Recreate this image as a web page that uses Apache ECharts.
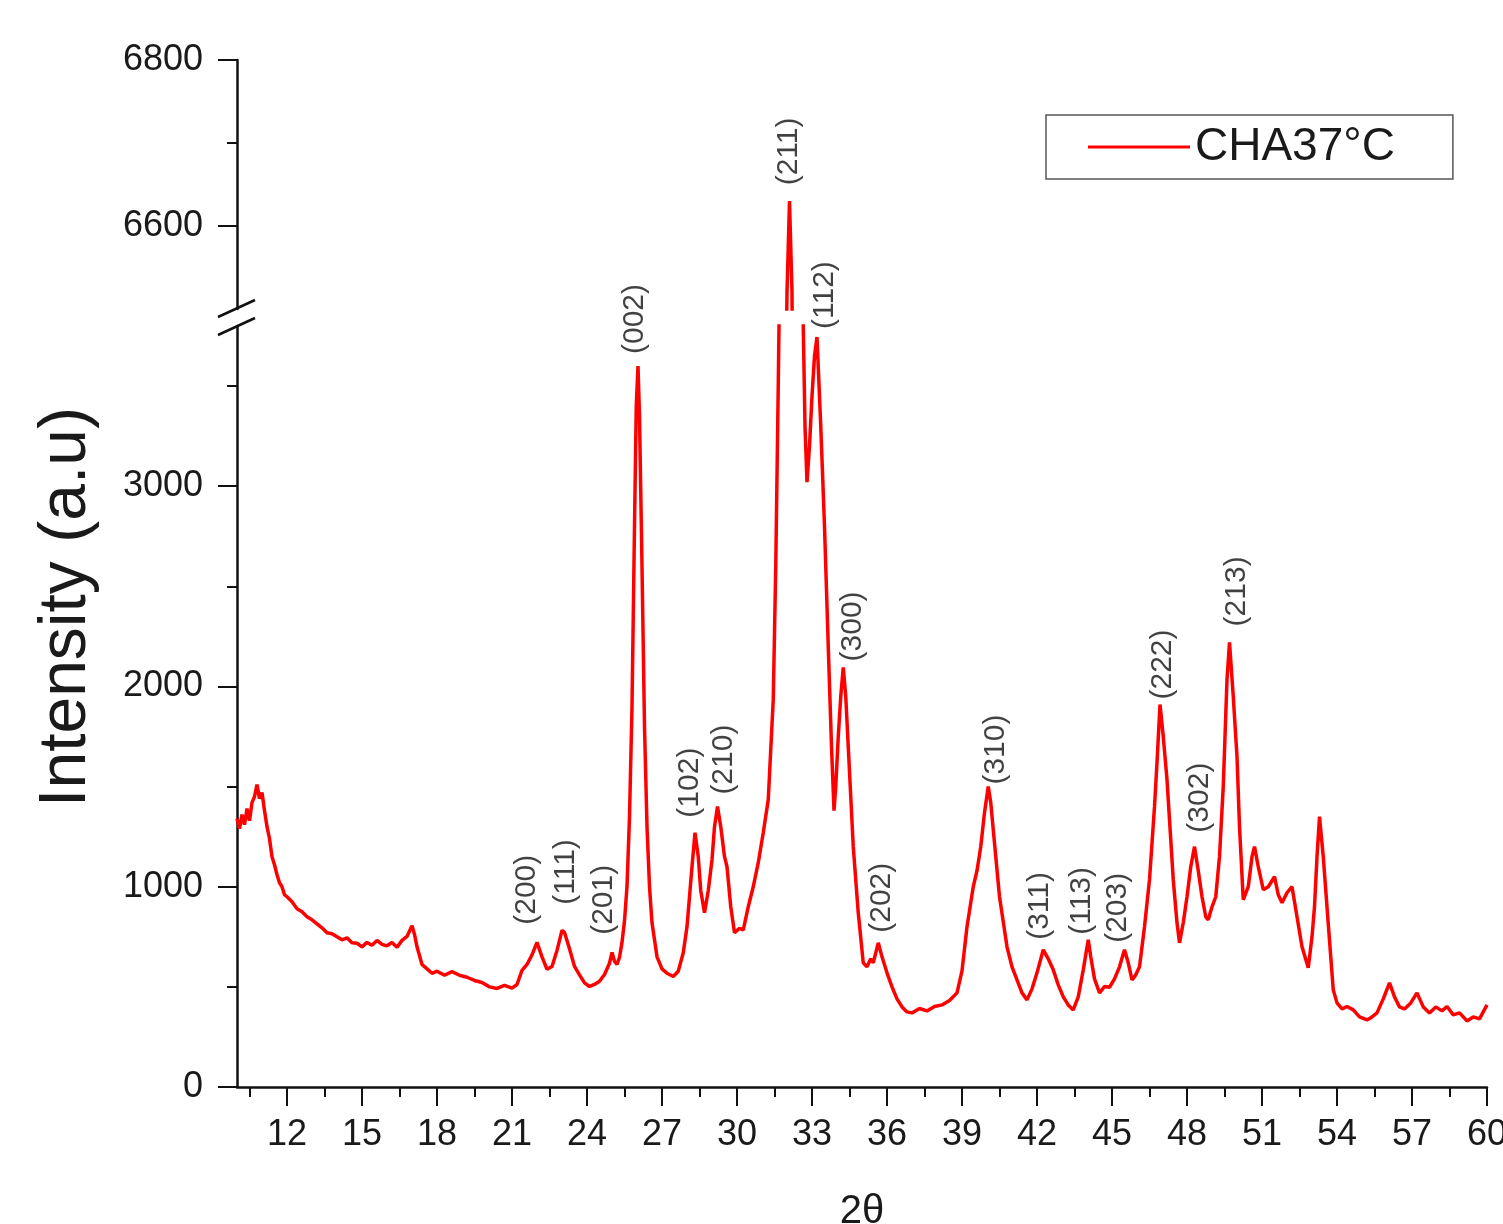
<!DOCTYPE html>
<html>
<head>
<meta charset="utf-8">
<script src="https://cdn.jsdelivr.net/npm/echarts@6.0.0/dist/echarts.min.js"></script>
<style>
html,body{margin:0;padding:0;background:#fff;}
#main{width:1503px;height:1224px;}
</style>
</head>
<body>
<div id="main"></div>
<script>
// 2theta / intensity
var twoTheta = [10.0,10.1,10.2,10.3,10.4,10.5,10.6,10.7,10.8,10.9,11.0,11.1,11.2,11.3,11.4,11.5,11.6,11.7,11.8,11.9,
    12.0,12.2,12.4,12.6,12.8,13.0,13.2,13.4,13.6,13.8,14.0,14.2,14.4,14.6,14.8,15.0,15.2,15.4,15.6,15.8,
    16.0,16.2,16.4,16.6,16.8,17.0,17.1,17.2,17.4,17.6,17.8,18.0,18.3,18.6,18.9,19.2,19.5,19.8,20.1,20.4,
    20.7,21.0,21.2,21.4,21.6,21.8,22.0,22.2,22.4,22.6,22.8,23.0,23.1,23.3,23.5,23.7,23.9,24.1,24.3,24.5,
    24.7,24.9,25.0,25.1,25.2,25.3,25.4,25.5,25.6,25.7,25.8,25.9,25.97,26.04,26.1,26.2,26.3,26.4,26.5,26.6,
    26.8,27.0,27.2,27.45,27.65,27.85,28.0,28.1,28.2,28.32,28.45,28.55,28.7,28.85,29.0,29.1,29.22,29.35,29.5,29.6,
    29.75,29.9,30.1,30.25,30.45,30.65,30.85,31.05,31.25,31.45,31.55,31.65,31.72,31.8,31.95,32.0,32.1,32.2,32.25,32.55,
    32.65,32.72,32.8,32.9,33.0,33.1,33.2,33.35,33.5,33.65,33.78,33.88,33.95,34.05,34.15,34.25,34.35,34.45,34.65,34.85,
    35.05,35.2,35.35,35.45,35.65,35.8,36.0,36.2,36.4,36.6,36.8,37.0,37.3,37.6,37.9,38.2,38.5,38.8,39.0,39.2,
    39.45,39.6,39.75,39.9,40.05,40.15,40.25,40.5,40.8,41.0,41.2,41.4,41.6,41.8,42.0,42.25,42.45,42.65,42.85,43.05,
    43.25,43.45,43.65,43.85,44.05,44.15,44.3,44.5,44.7,44.9,45.1,45.3,45.5,45.65,45.8,45.95,46.1,46.3,46.5,46.7,
    46.8,46.92,47.05,47.2,47.45,47.6,47.7,47.85,48.0,48.15,48.3,48.45,48.6,48.75,48.85,49.0,49.15,49.3,49.45,49.6,
    49.7,49.85,50.0,50.1,50.25,50.45,50.6,50.7,50.85,51.05,51.25,51.5,51.65,51.8,52.0,52.2,52.4,52.6,52.85,53.0,
    53.1,53.2,53.3,53.45,53.6,53.75,53.85,54.0,54.2,54.4,54.65,54.9,55.2,55.4,55.6,55.85,56.1,56.3,56.5,56.7,
    56.95,57.2,57.45,57.7,57.95,58.2,58.4,58.65,58.9,59.2,59.45,59.7,60.0];
var intensity = [1340,1290,1360,1310,1390,1330,1420,1450,1510,1440,1470,1380,1300,1240,1150,1110,1060,1020,1000,960,
    950,925,890,875,850,835,815,795,770,765,750,735,745,720,718,700,722,708,732,712,
    705,722,698,732,752,805,762,700,612,590,568,578,558,576,558,548,532,522,500,492,
    508,494,512,582,612,660,722,650,588,602,682,782,772,690,602,560,520,502,512,528,
    562,618,672,628,612,648,722,830,1000,1350,1900,2800,3400,3600,3350,2600,1800,1300,1000,820,
    650,590,568,552,578,670,800,950,1100,1270,1150,980,870,980,1135,1300,1400,1300,1150,1100,
    900,770,792,785,900,1000,1120,1270,1435,1935,2600,3500,4200,5200,6400,6520,6630,6520,6300,4300,
    3800,3300,3020,3200,3450,3650,3745,3300,2800,2200,1700,1380,1500,1750,1950,2095,1950,1700,1200,870,
    620,600,640,620,720,650,570,500,440,400,375,370,392,380,402,410,432,470,580,800,
    1000,1080,1200,1370,1500,1420,1285,950,700,600,535,470,435,490,570,685,640,585,510,450,
    410,385,450,585,735,650,540,470,502,498,540,600,685,620,535,560,600,800,1035,1400,
    1620,1910,1750,1535,1035,820,720,820,950,1100,1200,1080,950,850,835,900,950,1150,1500,2035,
    2220,1950,1650,1300,935,1000,1150,1200,1100,985,1000,1050,960,920,970,1000,850,700,595,750,
    900,1150,1350,1150,900,650,485,420,390,402,385,350,335,350,370,440,520,450,400,390,
    420,470,400,370,400,380,402,360,370,330,350,340,410];

// reflection labels (x = centre of text, y = bottom of text)
var peakNames = ['(200)','(111)','(201)','(002)','(102)','(210)','(211)','(112)','(300)','(202)','(310)','(311)','(113)','(203)','(222)','(302)','(213)'];
var peakX = [21.6,23.16,24.68,25.92,28.12,29.48,32.08,33.52,34.64,35.8,40.36,42.12,43.8,45.24,47.04,48.52,50.0];
var peakY = [810,910,760,3660,1345,1460,6649,3785,2125,770,1510,735,760,720,1935,1270,2300];

var xMajor = [12,15,18,21,24,27,30,33,36,39,42,45,48,51,54,57,60];
var xMinor = [10.5,13.5,16.5,19.5,22.5,25.5,28.5,31.5,34.5,37.5,40.5,43.5,46.5,49.5,52.5,55.5,58.5];
var yLowMajor = [0,1000,2000,3000];
var yLowMinor = [500,1500,2500,3500];
var yHighMajor = [6600,6800];
var yHighMinor = [6700];

var FONT = 'Arial, "Liberation Sans", sans-serif';
var lineData = [];
for (var i = 0; i < twoTheta.length; i++) lineData.push([twoTheta[i], intensity[i]]);
var lowLabels = [], highLabels = [];
for (var j = 0; j < peakNames.length; j++) {
    if (peakY[j] > 6000) highLabels.push([peakX[j], peakY[j], peakNames[j]]);
    else lowLabels.push([peakX[j], peakY[j], peakNames[j]]);
}

function tickAxis(grid, vals, len, pos, extra) {
    var a = {
        gridIndex: grid, type: 'value', position: pos,
        axisLine: {show: false}, splitLine: {show: false},
        axisLabel: {show: false},
        axisTick: {show: true, length: len, customValues: vals, lineStyle: {color: '#111', width: 2}}
    };
    for (var k in extra) a[k] = extra[k];
    return a;
}
function mainAxis(grid, majors, pos, margin, extra) {
    var a = {
        gridIndex: grid, type: 'value', position: pos,
        axisLine: {show: true, lineStyle: {color: '#111', width: 2.5}},
        splitLine: {show: false},
        axisTick: {show: true, length: 19, customValues: majors, lineStyle: {color: '#111', width: 2}},
        axisLabel: {show: true, customValues: majors, fontSize: 36, fontFamily: FONT, color: '#1a1a1a', margin: margin,
            formatter: function(v){ return String(v); }}
    };
    for (var k in extra) a[k] = extra[k];
    return a;
}
function peakLabel() {
    return {show: true, position: 'inside', rotate: 90, align: 'left', verticalAlign: 'middle',
        formatter: function(p){ return p.data[2]; }, fontSize: 30, fontFamily: FONT, color: '#111'};
}

var myChart = echarts.init(document.getElementById('main'));
var option = {
    animation: false,
    backgroundColor: '#fff',
    grid: [
        {left: 237, right: 16, top: 326, bottom: 137, outerBoundsMode: 'none', containLabel: false},
        {left: 237, right: 16, top: 60, height: 249, outerBoundsMode: 'none', containLabel: false}
    ],
    xAxis: [
        mainAxis(0, xMajor, 'bottom', 30, {min: 10, max: 60, name: '2θ', nameLocation: 'middle', nameGap: 105,
            nameTextStyle: {fontSize: 40, fontFamily: FONT, color: '#1a1a1a'}}),
        tickAxis(0, xMinor, 10, 'bottom', {min: 10, max: 60}),
        {gridIndex: 1, type: 'value', min: 10, max: 60, show: false}
    ],
    yAxis: [
        mainAxis(0, yLowMajor, 'left', 34, {min: 0, max: 3800}),
        tickAxis(0, yLowMinor, 10, 'left', {min: 0, max: 3800}),
        mainAxis(1, yHighMajor, 'left', 34, {min: 6500, max: 6800}),
        tickAxis(1, yHighMinor, 10, 'left', {min: 6500, max: 6800})
    ],
    legend: {
        left: 1046, top: 115,
        data: [{name: 'CHA37°C', icon: 'rect'}],
        itemWidth: 102, itemHeight: 3,
        padding: [9, 58, 9, 42],
        borderColor: '#555', borderWidth: 1.5,
        textStyle: {fontSize: 46, fontFamily: FONT, color: '#1a1a1a', lineHeight: 46}
    },
    graphic: [
        {type: 'text', x: 67, y: 607, rotation: Math.PI / 2,
            style: {text: 'Intensity (a.u)', fontSize: 66, fontFamily: FONT, fill: '#1a1a1a', align: 'center', verticalAlign: 'middle'}},
        {type: 'line', shape: {x1: 218, y1: 317, x2: 255, y2: 300}, style: {stroke: '#111', lineWidth: 2.5}},
        {type: 'line', shape: {x1: 218, y1: 335, x2: 255, y2: 318}, style: {stroke: '#111', lineWidth: 2.5}}
    ],
    series: [
        {name: 'CHA37°C', type: 'line', xAxisIndex: 0, yAxisIndex: 0, data: lineData,
            symbol: 'none', color: '#ff0000', lineStyle: {width: 3.5, color: '#ff0000'}, clip: true},
        {name: 'CHA37°C', type: 'line', xAxisIndex: 2, yAxisIndex: 2, data: lineData,
            symbol: 'none', color: '#ff0000', lineStyle: {width: 3.5, color: '#ff0000'}, clip: true},
        {type: 'scatter', xAxisIndex: 0, yAxisIndex: 0, data: lowLabels, symbolSize: 1,
            itemStyle: {color: 'rgba(0,0,0,0)'}, clip: false, label: peakLabel()},
        {type: 'scatter', xAxisIndex: 2, yAxisIndex: 2, data: highLabels, symbolSize: 1,
            itemStyle: {color: 'rgba(0,0,0,0)'}, clip: false, label: peakLabel()}
    ]
};
myChart.setOption(option, true);
</script>
</body>
</html>
